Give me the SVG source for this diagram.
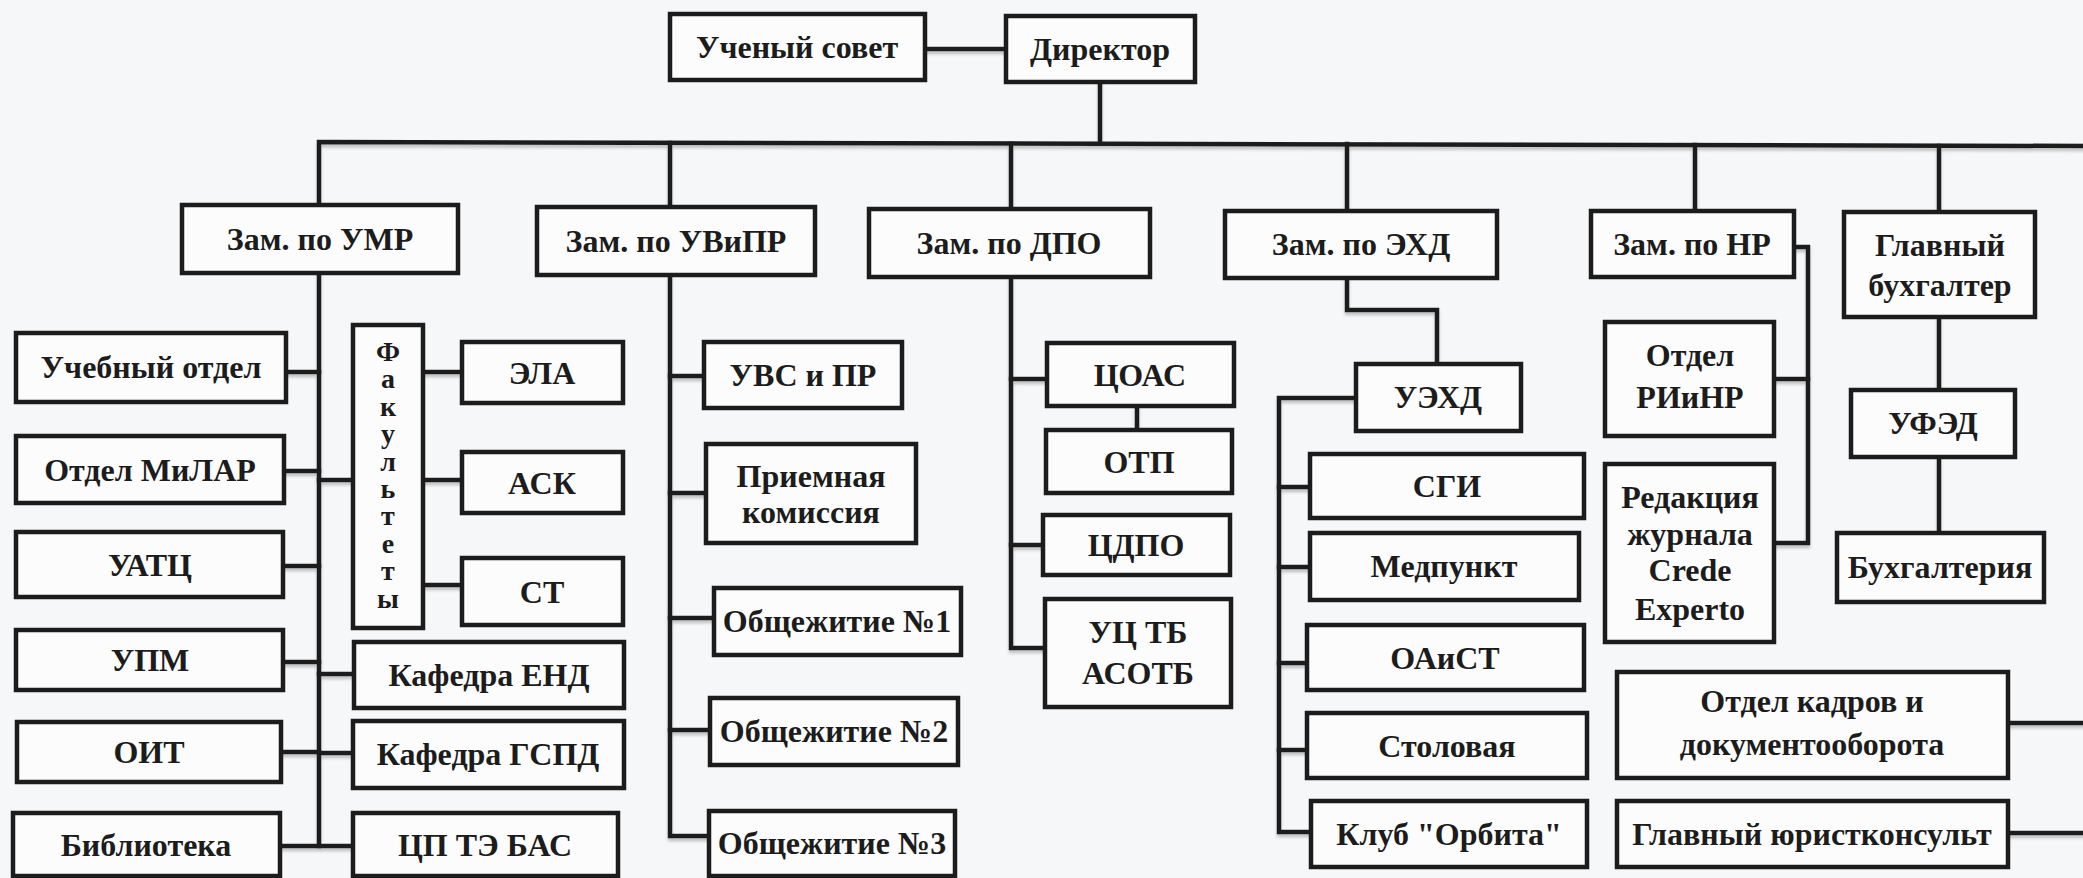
<svg xmlns="http://www.w3.org/2000/svg" width="2083" height="878" viewBox="0 0 2083 878">
<defs>
<filter id="sh" x="-5%" y="-5%" width="110%" height="120%">
<feDropShadow dx="0" dy="3" stdDeviation="1.5" flood-color="#808080" flood-opacity="0.45"/>
</filter>
</defs>
<style>
.b{fill:#fcfcfd;stroke:#1c1c1c;stroke-width:4.5}
.t{font-family:'Liberation Serif','Times New Roman',serif;font-weight:700;font-size:32px;fill:#1c1c1c;text-anchor:middle}
.f{font-size:28px}
.c{fill:none;stroke:#1c1c1c;stroke-width:4.5;stroke-linejoin:miter;stroke-linecap:square}
</style>
<rect width="2083" height="878" fill="#f6f7f9"/>
<g id="connectors" class="c" filter="url(#sh)">
<path d="M925,49H1006"/>
<path d="M1100,82V142"/>
<path d="M319,205V142L2090,146"/>
<path d="M670,143V207"/>
<path d="M1011,144V209"/>
<path d="M1347,144V211"/>
<path d="M1695,145V211"/>
<path d="M1939,146V212"/>
<path d="M319,273V846"/>
<path d="M286,372H319M284,471H319M283,566H319M283,662H319M281,752H319M280,846H353"/>
<path d="M319,480H353M319,674H354M319,753H353"/>
<path d="M423,372H462M423,480H462M423,585H462"/>
<path d="M670,275V836H709"/>
<path d="M670,376H704M670,493H706M670,618H714M670,730H710"/>
<path d="M1011,277V648H1045"/>
<path d="M1011,379H1047M1011,545H1043"/>
<path d="M1137,406V430"/>
<path d="M1347,278V310H1437V364"/>
<path d="M1356,398H1279V832H1311"/>
<path d="M1279,487H1310M1279,567H1310M1279,663H1307M1279,750H1307"/>
<path d="M1794,247H1808V543H1774"/>
<path d="M1774,379H1808"/>
<path d="M1939,317V390M1939,457V533"/>
<path d="M2008,723H2090M2008,833H2090"/>
</g>
<g id="uchsovet"><rect class="b" x="670" y="14" width="255" height="66"/><text class="t" x="797" y="58">Ученый совет</text></g>
<g id="director"><rect class="b" x="1006" y="16" width="189" height="66"/><text class="t" x="1100" y="60">Директор</text></g>
<g id="zam-umr"><rect class="b" x="182" y="205" width="276" height="68"/><text class="t" x="320" y="250">Зам. по УМР</text></g>
<g id="zam-uvipr"><rect class="b" x="537" y="207" width="278" height="68"/><text class="t" x="676" y="252">Зам. по УВиПР</text></g>
<g id="zam-dpo"><rect class="b" x="869" y="209" width="281" height="68"/><text class="t" x="1009" y="254">Зам. по ДПО</text></g>
<g id="zam-ehd"><rect class="b" x="1225" y="211" width="272" height="67"/><text class="t" x="1361" y="255">Зам. по ЭХД</text></g>
<g id="zam-nr"><rect class="b" x="1591" y="211" width="203" height="66"/><text class="t" x="1692" y="255">Зам. по НР</text></g>
<g id="gl-buh"><rect class="b" x="1844" y="212" width="191" height="105"/><text class="t" x="1940" y="256">Главный</text><text class="t" x="1940" y="296">бухгалтер</text></g>
<g id="uch-otdel"><rect class="b" x="16" y="333" width="270" height="69"/><text class="t" x="151" y="378">Учебный отдел</text></g>
<g id="otdel-milar"><rect class="b" x="16" y="436" width="268" height="67"/><text class="t" x="150" y="481">Отдел МиЛАР</text></g>
<g id="uatc"><rect class="b" x="16" y="532" width="267" height="65"/><text class="t" x="150" y="576">УАТЦ</text></g>
<g id="upm"><rect class="b" x="16" y="630" width="267" height="60"/><text class="t" x="150" y="671">УПМ</text></g>
<g id="oit"><rect class="b" x="17" y="722" width="264" height="60"/><text class="t" x="149" y="763">ОИТ</text></g>
<g id="biblioteka"><rect class="b" x="13" y="813" width="267" height="63"/><text class="t" x="146" y="856">Библиотека</text></g>
<g id="fakultety"><rect class="b" x="353" y="325" width="70" height="303"/>
<text class="t f" x="388"><tspan x="388" y="361">Ф</tspan><tspan x="388" y="388">а</tspan><tspan x="388" y="416">к</tspan><tspan x="388" y="443">у</tspan><tspan x="388" y="471">л</tspan><tspan x="388" y="498">ь</tspan><tspan x="388" y="525">т</tspan><tspan x="388" y="553">е</tspan><tspan x="388" y="580">т</tspan><tspan x="388" y="608">ы</tspan></text></g>
<g id="ela"><rect class="b" x="462" y="342" width="161" height="61"/><text class="t" x="542" y="384">ЭЛА</text></g>
<g id="ask"><rect class="b" x="462" y="452" width="161" height="61"/><text class="t" x="542" y="494">АСК</text></g>
<g id="st"><rect class="b" x="462" y="558" width="161" height="67"/><text class="t" x="542" y="603">СТ</text></g>
<g id="kaf-end"><rect class="b" x="354" y="642" width="270" height="66"/><text class="t" x="489" y="686">Кафедра ЕНД</text></g>
<g id="kaf-gspd"><rect class="b" x="353" y="721" width="271" height="67"/><text class="t" x="488" y="765">Кафедра ГСПД</text></g>
<g id="cp-te-bas"><rect class="b" x="353" y="813" width="265" height="63"/><text class="t" x="485" y="856">ЦП ТЭ БАС</text></g>
<g id="uvs-pr"><rect class="b" x="704" y="342" width="198" height="66"/><text class="t" x="803" y="386">УВС и ПР</text></g>
<g id="priem"><rect class="b" x="706" y="444" width="210" height="99"/><text class="t" x="811" y="487">Приемная</text><text class="t" x="811" y="523">комиссия</text></g>
<g id="obsh1"><rect class="b" x="714" y="588" width="247" height="67"/><text class="t" x="837" y="632">Общежитие №1</text></g>
<g id="obsh2"><rect class="b" x="710" y="698" width="248" height="67"/><text class="t" x="834" y="742">Общежитие №2</text></g>
<g id="obsh3"><rect class="b" x="709" y="811" width="246" height="65"/><text class="t" x="832" y="854">Общежитие №3</text></g>
<g id="coas"><rect class="b" x="1047" y="343" width="187" height="63"/><text class="t" x="1140" y="386">ЦОАС</text></g>
<g id="otp"><rect class="b" x="1046" y="430" width="186" height="63"/><text class="t" x="1139" y="473">ОТП</text></g>
<g id="cdpo"><rect class="b" x="1043" y="515" width="187" height="60"/><text class="t" x="1136" y="556">ЦДПО</text></g>
<g id="uc-tb"><rect class="b" x="1045" y="599" width="186" height="108"/><text class="t" x="1138" y="643">УЦ ТБ</text><text class="t" x="1138" y="684">АСОТБ</text></g>
<g id="uehd"><rect class="b" x="1356" y="364" width="165" height="67"/><text class="t" x="1438" y="408">УЭХД</text></g>
<g id="sgi"><rect class="b" x="1310" y="454" width="274" height="64"/><text class="t" x="1447" y="497">СГИ</text></g>
<g id="medpunkt"><rect class="b" x="1310" y="533" width="269" height="67"/><text class="t" x="1444" y="577">Медпункт</text></g>
<g id="oaist"><rect class="b" x="1307" y="625" width="277" height="65"/><text class="t" x="1445" y="669">ОАиСТ</text></g>
<g id="stolovaya"><rect class="b" x="1307" y="713" width="280" height="65"/><text class="t" x="1447" y="757">Столовая</text></g>
<g id="klub"><rect class="b" x="1311" y="801" width="276" height="66"/><text class="t" x="1449" y="845">Клуб "Орбита"</text></g>
<g id="otdel-riinr"><rect class="b" x="1605" y="322" width="169" height="114"/><text class="t" x="1690" y="366">Отдел</text><text class="t" x="1690" y="408">РИиНР</text></g>
<g id="redakciya"><rect class="b" x="1605" y="464" width="169" height="178"/><text class="t" x="1690" y="508">Редакция</text><text class="t" x="1690" y="545">журнала</text><text class="t" x="1690" y="581">Crede</text><text class="t" x="1690" y="620">Experto</text></g>
<g id="otdel-kadrov"><rect class="b" x="1617" y="672" width="391" height="106"/><text class="t" x="1812" y="712">Отдел кадров и</text><text class="t" x="1812" y="755">документооборота</text></g>
<g id="yurist"><rect class="b" x="1617" y="801" width="391" height="66"/><text class="t" x="1812" y="845">Главный юристконсульт</text></g>
<g id="ufed"><rect class="b" x="1851" y="390" width="164" height="67"/><text class="t" x="1933" y="434">УФЭД</text></g>
<g id="buhgalteriya"><rect class="b" x="1837" y="533" width="207" height="69"/><text class="t" x="1940" y="578">Бухгалтерия</text></g>
</svg>
